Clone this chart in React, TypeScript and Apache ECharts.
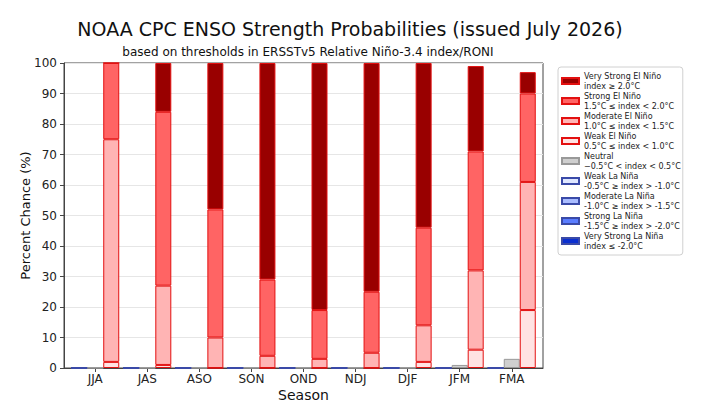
import React, { useEffect, useRef } from "react";
import * as echarts from "echarts";

// Seasons (three-month running windows)
const seasons = ["JJA", "JAS", "ASO", "SON", "OND", "NDJ", "DJF", "JFM", "FMA"];

// Probabilities (%) by strength category
const veryStrongLaNina = [0, 0, 0, 0, 0, 0, 0, 0, 0];
const strongLaNina = [0, 0, 0, 0, 0, 0, 0, 0, 0];
const moderateLaNina = [0, 0, 0, 0, 0, 0, 0, 0, 0];
const weakLaNina = [0, 0, 0, 0, 0, 0, 0, 0, 0];
const neutral = [0, 0, 0, 0, 0, 0, 0, 1, 3];
const weakElNino = [2, 1, 0, 0, 0, 0, 2, 6, 19];
const moderateElNino = [73, 26, 10, 4, 3, 5, 12, 26, 42];
const strongElNino = [25, 57, 42, 25, 16, 20, 32, 39, 29];
const veryStrongElNino = [0, 16, 48, 71, 81, 75, 54, 28, 7];

const yTicks = [0, 10, 20, 30, 40, 50, 60, 70, 80, 90, 100];

const ranges: Record<string, string> = {
  "Very Strong El Niño": "index ≥ 2.0°C",
  "Strong El Niño": "1.5°C ≤ index < 2.0°C",
  "Moderate El Niño": "1.0°C ≤ index < 1.5°C",
  "Weak El Niño": "0.5°C ≤ index < 1.0°C",
  Neutral: "−0.5°C < index < 0.5°C",
  "Weak La Niña": "-0.5°C ≥ index > -1.0°C",
  "Moderate La Niña": "-1.0°C ≥ index > -1.5°C",
  "Strong La Niña": "-1.5°C ≥ index > -2.0°C",
  "Very Strong La Niña": "index ≤ -2.0°C",
};

const FONT = "DejaVu Sans";

// Each point is stored as [probability, seasonIndex] so the probability is the
// first (stacked) dimension; encode maps it back onto the y axis.
function bar(name: string, stack: string, values: number[], fill: string, edge: string) {
  return {
    type: "bar",
    name,
    stack,
    data: values.map((v, i) => [v, i]),
    encode: { x: 1, y: 0 },
    barWidth: 16,
    barGap: "0%",
    itemStyle: { color: fill, borderColor: edge, borderWidth: 1 },
    emphasis: { disabled: true },
  };
}

export default function App() {
  const ref = useRef<HTMLDivElement>(null);

  useEffect(() => {
    if (!ref.current) return;
    const chart = echarts.init(ref.current, null, { renderer: "svg" });
    const idx = seasons.map((_, i) => i);
    chart.setOption({
      animation: false,
      backgroundColor: "#ffffff",
      textStyle: { fontFamily: FONT },
      graphic: [
        {
          type: "text",
          style: {
            text: "NOAA CPC ENSO Strength Probabilities (issued July 2026)",
            x: 350,
            y: 29,
            textAlign: "center",
            textVerticalAlign: "middle",
            fontSize: 19,
            fontFamily: FONT,
            fill: "#111",
          },
        },
        {
          type: "text",
          style: {
            text: "based on thresholds in ERSSTv5 Relative Niño-3.4 index/RONI",
            x: 308,
            y: 52,
            textAlign: "center",
            textVerticalAlign: "middle",
            fontSize: 12,
            fontFamily: FONT,
            fill: "#111",
          },
        },
      ],
      grid: {
        left: 64,
        top: 63,
        width: 479,
        height: 305,
        show: true,
        borderColor: "#444",
        borderWidth: 1,
        backgroundColor: "#fff",
      },
      legend: {
        orient: "vertical",
        left: 558,
        top: 67,
        padding: [4, 2, 4, 3],
        itemWidth: 17,
        itemHeight: 6,
        itemGap: 0,
        icon: "rect",
        backgroundColor: "#fff",
        borderColor: "#d0d0d0",
        borderWidth: 1,
        borderRadius: 3,
        selectedMode: false,
        data: [
          "Very Strong El Niño",
          "Strong El Niño",
          "Moderate El Niño",
          "Weak El Niño",
          "Neutral",
          "Weak La Niña",
          "Moderate La Niña",
          "Strong La Niña",
          "Very Strong La Niña",
        ],
        formatter: (name: string) => `${name}\n${ranges[name]}`,
        textStyle: { fontSize: 8, lineHeight: 10, color: "#222", fontFamily: FONT },
      },
      xAxis: {
        type: "value",
        min: -0.6,
        max: 8.6,
        name: "Season",
        nameLocation: "middle",
        nameGap: 20,
        nameMoveOverlap: false,
        nameTextStyle: { fontSize: 14, color: "#111", fontFamily: FONT },
        axisLine: { show: true, onZero: false, lineStyle: { color: "#444" } },
        axisTick: { show: true, customValues: idx, length: 4, lineStyle: { color: "#444" } },
        axisLabel: {
          customValues: idx,
          formatter: (v: number) => seasons[Math.round(v)] ?? "",
          fontSize: 12,
          color: "#222",
          margin: 5,
        },
        splitLine: { show: false },
      },
      yAxis: {
        type: "value",
        min: yTicks[0],
        max: yTicks[yTicks.length - 1],
        interval: 10,
        name: "Percent Chance (%)",
        nameLocation: "middle",
        nameGap: 32,
        nameMoveOverlap: false,
        nameTextStyle: { fontSize: 13, color: "#111", fontFamily: FONT },
        axisLine: { show: true, onZero: false, lineStyle: { color: "#444" } },
        axisTick: { show: true, length: 4, lineStyle: { color: "#444" } },
        axisLabel: { fontSize: 12, color: "#222", margin: 7 },
        splitLine: { show: true, lineStyle: { color: "#e6e6e6", width: 1 } },
      },
      series: [
        bar("Weak La Niña", "nina", weakLaNina, "#dfe7ff", "#3a4aa8"),
        bar("Moderate La Niña", "nina", moderateLaNina, "#a9bcff", "#3a4aa8"),
        bar("Strong La Niña", "nina", strongLaNina, "#5a7dff", "#3a4aa8"),
        bar("Very Strong La Niña", "nina", veryStrongLaNina, "#0a2fd0", "#3a4aa8"),
        bar("Neutral", "neutral", neutral, "#cfcfcf", "#999999"),
        bar("Weak El Niño", "nino", weakElNino, "#ffe3e3", "#e31010"),
        bar("Moderate El Niño", "nino", moderateElNino, "#ffb4b4", "#e31010"),
        bar("Strong El Niño", "nino", strongElNino, "#ff6464", "#e31010"),
        bar("Very Strong El Niño", "nino", veryStrongElNino, "#990000", "#e31010"),
      ],
    });
    return () => chart.dispose();
  }, []);

  return (
    <div
      ref={ref}
      style={{ position: "absolute", left: 0, top: 0, width: 704, height: 413 }}
    />
  );
}
